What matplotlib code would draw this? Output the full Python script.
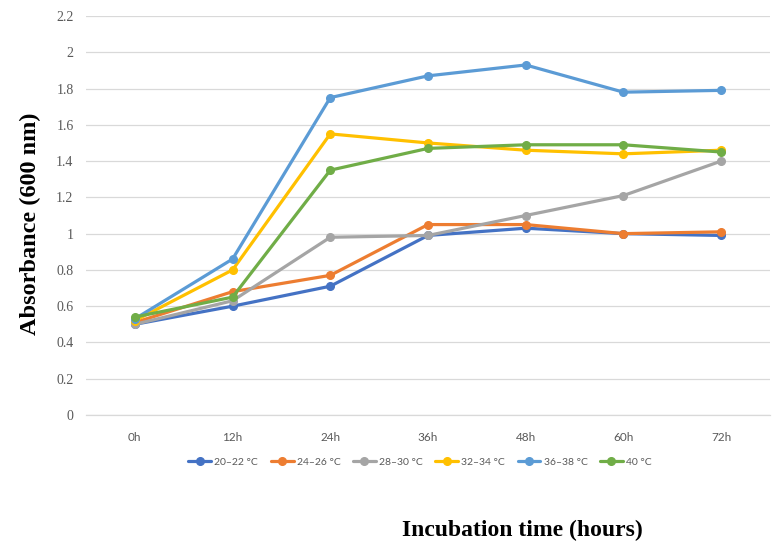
import matplotlib
matplotlib.use("Agg")
import matplotlib.pyplot as plt

categories = ["0h", "12h", "24h", "36h", "48h", "60h", "72h"]
series_names = ["20–22 °C", "24–26 °C", "28–30 °C", "32–34 °C", "36–38 °C", "40 °C"]
s20_22 = [0.50, 0.60, 0.71, 0.99, 1.03, 1.00, 0.99]
s24_26 = [0.51, 0.68, 0.77, 1.05, 1.05, 1.00, 1.01]
s28_30 = [0.50, 0.63, 0.98, 0.99, 1.10, 1.21, 1.40]
s32_34 = [0.52, 0.80, 1.55, 1.50, 1.46, 1.44, 1.46]
s36_38 = [0.53, 0.86, 1.75, 1.87, 1.93, 1.78, 1.79]
s40 = [0.54, 0.65, 1.35, 1.47, 1.49, 1.49, 1.45]
y_ticks = [0, 0.2, 0.4, 0.6, 0.8, 1, 1.2, 1.4, 1.6, 1.8, 2, 2.2]
y_tick_labels = ["0", "0.2", "0.4", "0.6", "0.8", "1", "1.2", "1.4", "1.6", "1.8", "2", "2.2"]

colors = ["#4472C4", "#ED7D31", "#A5A5A5", "#FFC000", "#5B9BD5", "#70AD47"]
all_series = [s20_22, s24_26, s28_30, s32_34, s36_38, s40]

fig = plt.figure(figsize=(7.83, 5.51), dpi=100)
ax = fig.add_axes([86/783, 1-415/551, 684/783, 399/551])

x = list(range(len(categories)))
for name, vals, c in zip(series_names, all_series, colors):
    ax.plot(x, vals, color=c, lw=2.3, marker="o", markersize=5.5, label=name,
            solid_capstyle="round", solid_joinstyle="round")

ax.set_xlim(-0.5, len(categories) - 0.5)
ax.set_ylim(0, 2.2)
ax.set_yticks(y_ticks)
ax.set_yticklabels(y_tick_labels, family="Liberation Serif", fontsize=10, color="#595959")
ax.set_xticks(x)
ax.set_xticklabels(categories, family="Lato", fontsize=8.5, color="#595959")
ax.tick_params(axis="both", length=0)
ax.tick_params(axis="y", pad=9)
ax.tick_params(axis="x", pad=12)
ax.grid(axis="y", color="#D9D9D9", lw=0.9)
ax.set_axisbelow(True)
for side in ["top", "right", "left"]:
    ax.spines[side].set_visible(False)
ax.spines["bottom"].set_color("#D9D9D9")
ax.spines["bottom"].set_linewidth(0.9)

leg = fig.legend(loc="center", bbox_to_anchor=(420/783, 1-462/551), ncol=6,
                 frameon=False, prop={"family": "Lato", "size": 7.5},
                 handlelength=2.2, columnspacing=1.2, handletextpad=0.3)
for t in leg.get_texts():
    t.set_color("#595959")

fig.text(30/783, 1-224/551, "Absorbance (600 nm)", rotation=90, ha="center", va="center",
         family="Liberation Serif", fontweight="bold", fontsize=17.5)
fig.text(522/783, 1-530/551, "Incubation time (hours)", ha="center", va="center",
         family="Liberation Serif", fontweight="bold", fontsize=17)

fig.savefig("out.png", dpi=100)
